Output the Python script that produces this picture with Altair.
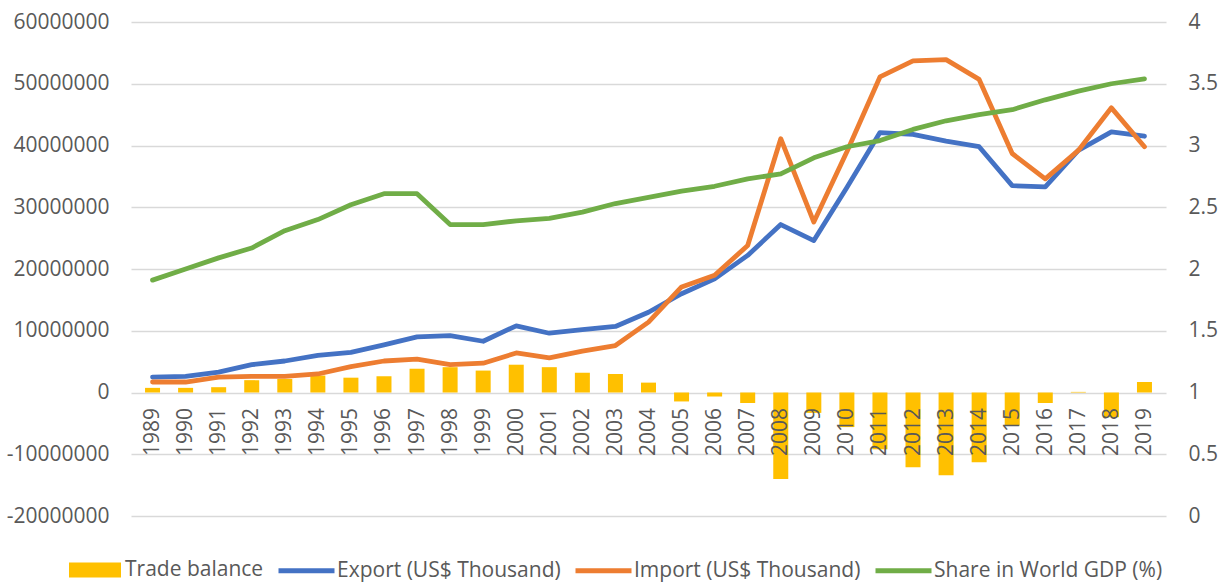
import altair as alt
import pandas as pd

years = list(range(1989, 2020))
trade_balance = [750000, 750000, 860000, 2000000, 2200000, 2750000, 2400000, 2650000, 3850000, 4100000, 3550000,
                 4500000, 4100000, 3200000, 3000000, 1600000, -1450000, -650000, -1700000, -14000000, -3300000,
                 -5600000, -9200000, -12100000, -13400000, -11300000, -5350000, -1700000, 100000, -4000000, 1700000]
export = [2500000, 2600000, 3300000, 4500000, 5100000, 6000000, 6500000, 7700000, 9000000, 9200000, 8300000,
          10800000, 9600000, 10200000, 10700000, 13000000, 16000000, 18400000, 22200000, 27200000, 24600000,
          33200000, 42100000, 41800000, 40700000, 39800000, 33500000, 33300000, 39200000, 42200000, 41500000]
imports = [1700000, 1700000, 2500000, 2600000, 2600000, 3000000, 4200000, 5100000, 5400000, 4500000, 4750000,
           6400000, 5600000, 6700000, 7600000, 11400000, 17100000, 19000000, 23800000, 41100000, 27600000,
           39000000, 51100000, 53700000, 53900000, 50700000, 38700000, 34600000, 39200000, 46100000, 39800000]
share = [1.91, 2.0, 2.09, 2.17, 2.31, 2.40, 2.52, 2.61, 2.61, 2.36, 2.36,
         2.39, 2.41, 2.46, 2.53, 2.58, 2.63, 2.67, 2.73, 2.77, 2.90,
         2.99, 3.04, 3.13, 3.20, 3.25, 3.29, 3.37, 3.44, 3.50, 3.54]

left_ticks = [-20000000, -10000000, 0, 10000000, 20000000, 30000000, 40000000, 50000000, 60000000]
right_ticks = [0, 0.5, 1, 1.5, 2, 2.5, 3, 3.5, 4]

bar_name = "Trade balance"
line_names = ["Export (US$ Thousand)", "Import (US$ Thousand)", "Share in World GDP (%)"]
line_colors = ["#4472C4", "#ED7D31", "#70AD47"]

FONT = "Open Sans"
GRAY = "#595959"
FS = 21

bars_df = pd.DataFrame({"year": years, "value": trade_balance, "series": bar_name})
lines_df = pd.concat([
    pd.DataFrame({"year": years, "value": export, "series": line_names[0]}),
    pd.DataFrame({"year": years, "value": imports, "series": line_names[1]}),
])
share_df = pd.DataFrame({"year": years, "value": share, "series": line_names[2]})

x_scale = alt.Scale(domain=[1988.5, 2019.5], nice=False, zero=False)
x_axis = alt.Axis(values=years, labelExpr="'' + datum.value", labelAngle=-90, labelPadding=15,
                  ticks=False, domain=False, grid=False, title=None, offset=-123.5, zindex=1,
                  labelFont=FONT, labelFontSize=FS, labelColor=GRAY, labelOverlap=False)
y_left_scale = alt.Scale(domain=[-20000000, 60000000], nice=False, zero=False)
y_left_axis = alt.Axis(values=left_ticks, labelExpr="'' + datum.value", orient="left", title=None,
                       domain=False, ticks=False, grid=True, gridColor="#D9D9D9", gridWidth=1.3,
                       labelPadding=22, labelFont=FONT, labelFontSize=FS, labelColor=GRAY)

stroke_scale = alt.Scale(domain=line_names, range=line_colors)
stroke_legend = alt.Legend(orient="none", legendX=145, legendY=518, direction="horizontal", title=None,
                           symbolType="stroke", symbolSize=3136, symbolStrokeWidth=4.8,
                           labelFont=FONT, labelFontSize=FS, labelColor=GRAY, labelLimit=500,
                           labelOffset=0, columnPadding=4, padding=0)

bars = alt.Chart(bars_df).mark_bar(size=15, color="#FFC000").encode(
    x=alt.X("year:Q", scale=x_scale, axis=x_axis),
    y=alt.Y("value:Q", scale=y_left_scale, axis=y_left_axis),
    color=alt.Color("series:N", scale=alt.Scale(domain=[bar_name], range=["#FFC000"]),
                    legend=alt.Legend(orient="none", legendX=-62, legendY=522, direction="horizontal",
                                      title=None, symbolType="M-1,-0.29H1V0.29H-1Z", symbolSize=2704,
                                      symbolStrokeWidth=0, labelFont=FONT, labelFontSize=FS,
                                      labelColor=GRAY, labelOffset=4, padding=0, labelLimit=300)),
)

lines_left = alt.Chart(lines_df).mark_line(strokeWidth=4.8, strokeCap="round", strokeJoin="round").encode(
    x=alt.X("year:Q", scale=x_scale, axis=x_axis),
    y=alt.Y("value:Q", scale=y_left_scale, axis=y_left_axis),
    stroke=alt.Stroke("series:N", scale=stroke_scale, legend=stroke_legend, sort=line_names),
    detail="series:N",
)

share_line = alt.Chart(share_df).mark_line(strokeWidth=4.8, strokeCap="round", strokeJoin="round").encode(
    x=alt.X("year:Q", scale=x_scale, axis=x_axis),
    y=alt.Y("value:Q", scale=alt.Scale(domain=[0, 4], nice=False),
            axis=alt.Axis(values=right_ticks, labelExpr="'' + datum.value", orient="right", title=None,
                          domain=False, ticks=False, grid=False, labelPadding=22,
                          labelFont=FONT, labelFontSize=FS, labelColor=GRAY)),
    stroke=alt.Stroke("series:N", scale=stroke_scale, legend=stroke_legend, sort=line_names),
)

chart = alt.layer(alt.layer(bars, lines_left), share_line).resolve_scale(y="independent").properties(
    width=1035, height=494,
    autosize=alt.AutoSizeParams(type="none"),
    padding={"left": 131, "top": 22, "right": 62, "bottom": 67},
    background="white",
).configure_view(stroke=None)

chart.save("out.html", embed_options={"renderer": "svg", "actions": False})
